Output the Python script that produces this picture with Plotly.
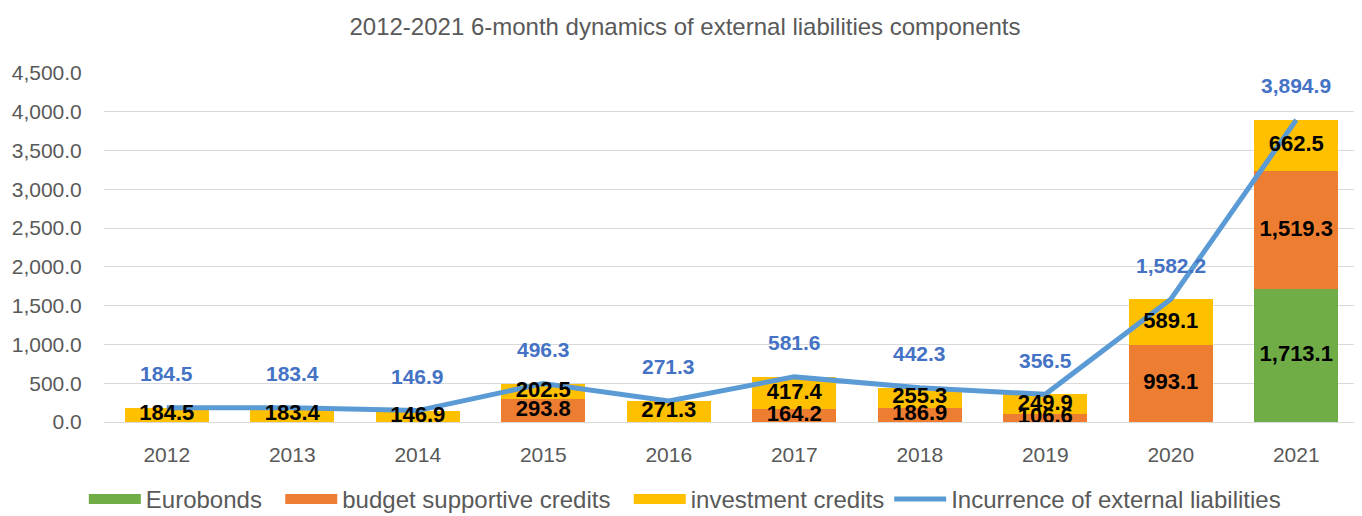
import plotly.graph_objects as go

years = ["2012", "2013", "2014", "2015", "2016", "2017", "2018", "2019", "2020", "2021"]
eurobonds = [0, 0, 0, 0, 0, 0, 0, 0, 0, 1713.1]
budget_credits = [0, 0, 0, 293.8, 0, 164.2, 186.9, 106.6, 993.1, 1519.3]
investment_credits = [184.5, 183.4, 146.9, 202.5, 271.3, 417.4, 255.3, 249.9, 589.1, 662.5]
total = [184.5, 183.4, 146.9, 496.3, 271.3, 581.6, 442.3, 356.5, 1582.2, 3894.9]

FONT = "Liberation Sans, Arial"
GREY = "#595959"
NB = "\u00a0\u00a0"

fig = go.Figure()
series = [
    ("Eurobonds", eurobonds, "#70AD47", NB),
    ("budget supportive credits", budget_credits, "#ED7D31", NB),
    ("investment credits", investment_credits, "#FFC000", ""),
]
for name, vals, col, pad in series:
    fig.add_trace(go.Bar(x=years, y=vals, name=name, marker_color=col,
                         marker_line_width=0, hoverinfo="skip", showlegend=False))

fig.add_trace(go.Scatter(x=years, y=total, name="Incurrence of external liabilities",
                         mode="lines", line=dict(color="#5B9BD5", width=5),
                         hoverinfo="skip", showlegend=False))

# legend entries (wide rectangle swatches like the reference)
for name, vals, col, pad in series:
    fig.add_trace(go.Scatter(x=[None], y=[None], name=name + pad, mode="lines",
                             line=dict(color=col, width=13)))
fig.add_trace(go.Scatter(x=[None], y=[None], name="Incurrence of external liabilities",
                         mode="lines", line=dict(color="#5B9BD5", width=5)))

# bar segment labels (centered in each segment)
base = [0.0] * len(years)
for name, vals, col, pad in series:
    xs, ys, ts = [], [], []
    for i, v in enumerate(vals):
        if v > 0:
            xs.append(years[i])
            ys.append(base[i] + v / 2)
            ts.append(f"{v:,.1f}")
        base[i] += v
    fig.add_trace(go.Scatter(x=xs, y=ys, text=ts, mode="text", showlegend=False,
                             hoverinfo="skip",
                             textfont=dict(family=FONT, size=22, color="#000000",
                                           weight="bold")))

for i, t in enumerate(total):
    fig.add_annotation(x=i, y=t, text=f"<b>{t:,.1f}</b>", showarrow=False,
                       yshift=34, font=dict(family=FONT, size=21, color="#4472C4"))

fig.update_layout(
    width=1354, height=508,
    barmode="stack", bargap=0.33,
    paper_bgcolor="white", plot_bgcolor="white",
    margin=dict(l=96, r=3, t=65, b=94, autoexpand=False),
    title=dict(text="2012-2021 6-month dynamics of external liabilities components",
               x=0.5, xanchor="center", y=0.9626, yanchor="middle",
               font=dict(family=FONT, size=24, color=GREY)),
    legend=dict(orientation="h", xref="container", x=0.056, xanchor="left",
                y=-0.222, yanchor="middle",
                itemwidth=52,
                traceorder="normal", font=dict(family=FONT, size=24, color=GREY),
                bgcolor="rgba(0,0,0,0)"),
    showlegend=True,
)
fig.update_xaxes(type="category", range=[-0.5, len(years) - 0.5],
                 showgrid=False, showline=False, ticks="outside", ticklen=14,
                 tickcolor="rgba(0,0,0,0)",
                 tickfont=dict(family=FONT, size=21, color=GREY))
fig.update_yaxes(range=[0, 4500], tickvals=[0, 500, 1000, 1500, 2000, 2500, 3000, 3500, 4000, 4500],
                 tickformat=",.1f", showgrid=True, gridcolor="#D9D9D9", gridwidth=1,
                 zeroline=True, zerolinecolor="#D9D9D9", zerolinewidth=1,
                 automargin=False,
                 ticks="outside", ticklen=17, tickcolor="rgba(0,0,0,0)",
                 tickfont=dict(family=FONT, size=21, color=GREY))

fig.write_html("out.html")
